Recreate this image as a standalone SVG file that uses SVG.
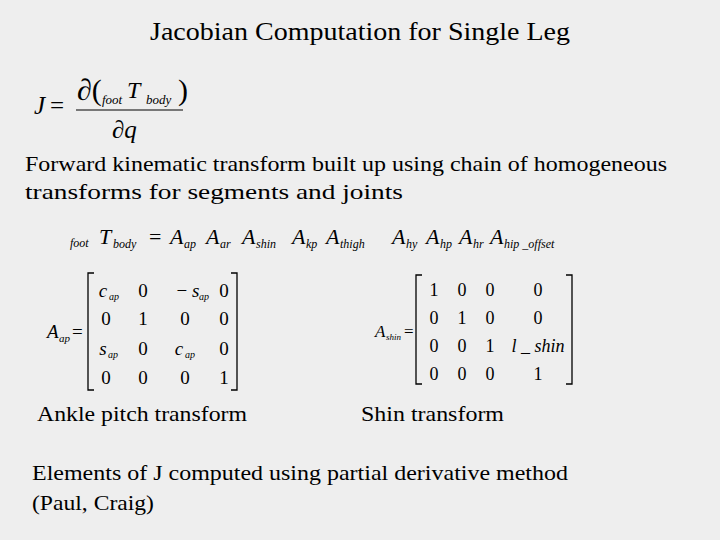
<svg xmlns="http://www.w3.org/2000/svg" width="720" height="540" viewBox="0 0 720 540" font-family="'Liberation Serif', 'Times New Roman', 'DejaVu Serif', serif">
<style>
text{font-family:'Liberation Serif','Times New Roman','DejaVu Serif',serif;fill:#000}
.t{font-size:22px}
.m{font-size:19px}
.i{font-style:italic}
.s{font-size:12px;font-style:italic}
.br{fill:none;stroke:#000;stroke-width:1.3}
</style>
<rect width="720" height="540" fill="#eeeeee"/>
<g id="title"><text x="150" y="40" style="font-size:25px" textLength="420" lengthAdjust="spacingAndGlyphs">Jacobian Computation for Single Leg</text></g>
<g id="jacobian">
<text x="34" y="114" class="i" style="font-size:25px">J</text>
<text x="50" y="114" style="font-size:25px">=</text>
<text x="77" y="100" style="font-size:30px">∂(</text>
<text x="102" y="104" class="s" style="font-size:13px">foot</text>
<text x="127" y="98" class="i" style="font-size:24px">T</text>
<text x="146" y="104" class="s" style="font-size:13px">body</text>
<text x="178" y="100" style="font-size:30px">)</text>
<line x1="76" y1="110" x2="183" y2="110" stroke="#000" stroke-width="1.2"/>
<text x="112" y="138" style="font-size:25px">∂<tspan class="i">q</tspan></text>
</g>
<g id="text1">
<text x="25" y="171" class="t" textLength="642" lengthAdjust="spacingAndGlyphs">Forward kinematic transform built up using chain of homogeneous</text>
<text x="25" y="199" class="t" textLength="378" lengthAdjust="spacingAndGlyphs">transforms for segments and joints</text>
</g>
<g id="chain" class="i">
<text x="70" y="247" class="s">foot</text>
<text x="99" y="244" class="i" style="font-size:22px">T</text>
<text x="113" y="248" class="s">body</text>
<text x="149" y="244" style="font-size:22px;font-style:normal">=</text>
<text x="170" y="244" style="font-size:22px">A</text><text x="184" y="248" class="s">ap</text>
<text x="206" y="244" style="font-size:22px">A</text><text x="220" y="248" class="s">ar</text>
<text x="242" y="244" style="font-size:22px">A</text><text x="256" y="248" class="s">shin</text>
<text x="292" y="244" style="font-size:22px">A</text><text x="306" y="248" class="s">kp</text>
<text x="326" y="244" style="font-size:22px">A</text><text x="340" y="248" class="s">thigh</text>
<text x="392" y="244" style="font-size:22px">A</text><text x="406" y="248" class="s">hy</text>
<text x="426" y="244" style="font-size:22px">A</text><text x="440" y="248" class="s">hp</text>
<text x="459" y="244" style="font-size:22px">A</text><text x="473" y="248" class="s">hr</text>
<text x="490" y="244" style="font-size:22px">A</text><text x="504" y="248" class="s">hip _offset</text>
</g>
<g id="matrix-ap">
<text x="47" y="338" class="i m">A</text><text x="59" y="342" class="s" style="font-size:11px">ap</text>
<text x="72" y="338" class="m">=</text>
<path class="br" d="M94 273 H88 V390 H94 M231 273 H237 V390 H231"/>
<g class="m" text-anchor="middle">
<text x="103" y="297" class="i">c</text><text x="114" y="300" class="s" style="font-size:10px">ap</text>
<text x="143" y="297">0</text><text x="188" y="297">− <tspan class="i">s</tspan></text><text x="204" y="300" class="s" style="font-size:10px">ap</text><text x="224" y="297">0</text>
<text x="106" y="325">0</text><text x="143" y="325">1</text><text x="185" y="325">0</text><text x="224" y="325">0</text>
<text x="103" y="355" class="i">s</text><text x="113" y="358" class="s" style="font-size:10px">ap</text>
<text x="143" y="355">0</text><text x="179" y="355" class="i">c</text><text x="190" y="358" class="s" style="font-size:10px">ap</text><text x="224" y="355">0</text>
<text x="106" y="384">0</text><text x="143" y="384">0</text><text x="185" y="384">0</text><text x="224" y="384">1</text>
</g>
</g>
<g id="matrix-shin">
<text x="375" y="337" class="i m" style="font-size:17px">A</text><text x="386" y="340" class="s" style="font-size:9px">shin</text>
<text x="404" y="337" class="m" style="font-size:17px">=</text>
<path class="br" d="M422 275 H416 V384 H422 M566 275 H572 V384 H566"/>
<g class="m" text-anchor="middle" style="font-size:18px">
<text x="434" y="296">1</text><text x="462" y="296">0</text><text x="490" y="296">0</text><text x="538" y="296">0</text>
<text x="434" y="324">0</text><text x="462" y="324">1</text><text x="490" y="324">0</text><text x="538" y="324">0</text>
<text x="434" y="352">0</text><text x="462" y="352">0</text><text x="490" y="352">1</text><text x="538" y="352" class="i">l _ shin</text>
<text x="434" y="380">0</text><text x="462" y="380">0</text><text x="490" y="380">0</text><text x="538" y="380">1</text>
</g>
</g>
<g id="captions">
<text x="37" y="421" class="t" textLength="210" lengthAdjust="spacingAndGlyphs">Ankle pitch transform</text>
<text x="361" y="421" class="t" textLength="143" lengthAdjust="spacingAndGlyphs">Shin transform</text>
</g>
<g id="text2">
<text x="32" y="480" class="t" textLength="536" lengthAdjust="spacingAndGlyphs">Elements of J computed using partial derivative method</text>
<text x="32" y="510" class="t" textLength="122" lengthAdjust="spacingAndGlyphs">(Paul, Craig)</text>
</g>
</svg>
